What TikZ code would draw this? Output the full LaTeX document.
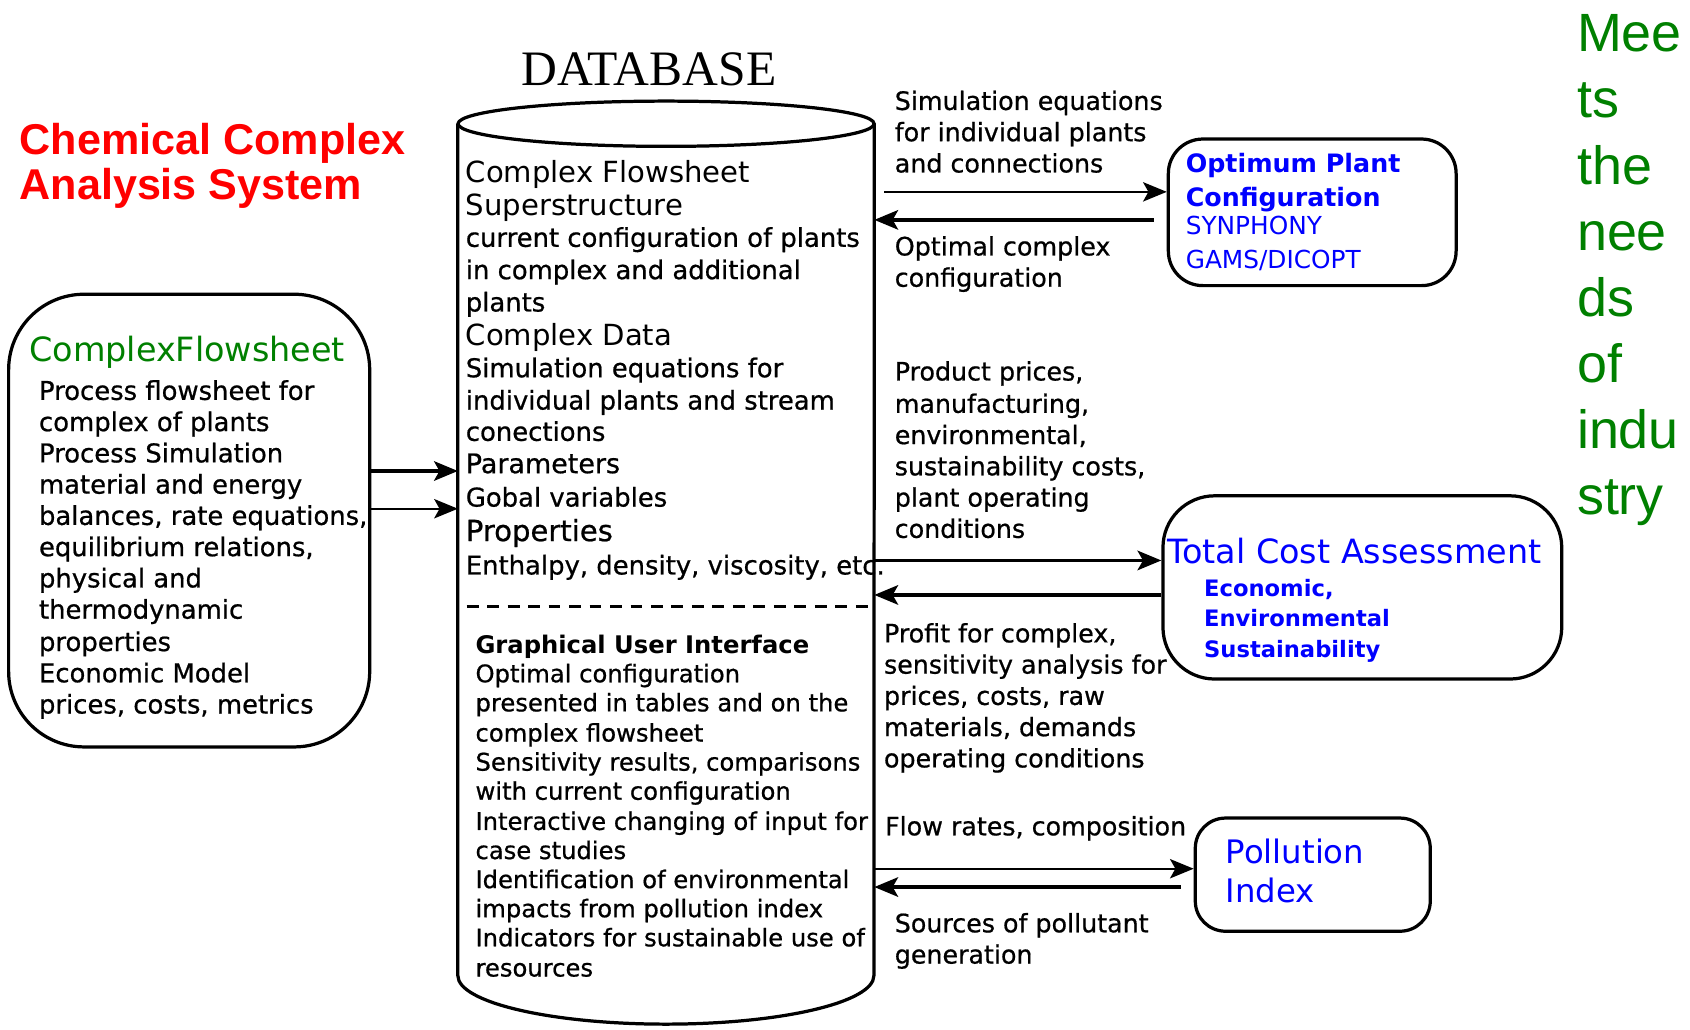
\documentclass[tikz,border=0pt]{standalone}
\usepackage{fontspec}
\setmainfont{DejaVu Sans}
\newfontfamily\heavy[FakeBold=0.7]{DejaVu Sans}
\newfontfamily\arialf{Liberation Sans}
\newfontfamily\timesf{Liberation Serif}
\usetikzlibrary{arrows.meta}
\definecolor{cgreen}{RGB}{0,128,0}
\definecolor{cblue}{RGB}{0,0,255}
\definecolor{cred}{RGB}{255,0,0}
\newcommand{\fsz}[1]{\fontsize{#1}{#1}\selectfont}
\begin{document}
\begin{tikzpicture}[x=1pt,y=-1pt,
  ln/.style={anchor=base west, inner sep=0pt},
  rl/.style={ln, font=\heavy\fsz{23.5}},
  box/.style={draw, line width=3pt, inner sep=0pt},
  tipx/.style={-{Stealth[length=22pt,width=18pt,inset=5pt]}},
  thk/.style={tipx, line width=3.5pt},
  thn/.style={tipx, line width=1.6pt}]
\useasboundingbox (0,0) rectangle (1568,955);
\fill[white] (0,0) rectangle (1568,955);

% title
\node[ln, text=cred, font=\arialf\bfseries\fsz{40}] (t1) at (18,143) {Chemical Complex};
\node[ln, text=cred, font=\arialf\bfseries\fsz{40}] (t2) at (18,185) {Analysis System};

% right green text
\foreach \yy/\w [count=\i] in {48/Mee, 109.4/ts, 170.8/the, 232.2/nee, 293.6/ds, 355/of, 416.4/indu, 477.8/stry}
  \node[ln, text=cgreen, font=\arialf\fsz{50}] (g\i) at (1463,\yy) {\w};

% database cylinder
\node[anchor=base, inner sep=0pt, font=\timesf\fsz{46}] (dbt) at (602,79) {DATABASE};
\node[minimum width=386pt, minimum height=790pt, inner sep=0pt] (db) at (618,510) {};
\draw[line width=3pt] (db.north west) -- (db.south west)
  arc[start angle=180, end angle=360, x radius=193pt, y radius=45pt] -- (db.north east);
\draw[line width=3pt, fill=white] (db.north) ellipse[x radius=193pt, y radius=21pt];
\draw[line width=2.5pt, dash pattern=on 11pt off 8pt] (433,563) -- (806,563);

\foreach \yy/\sz/\txt [count=\i] in {169/27/Complex Flowsheet, 200/27/Superstructure,
  321/27/Complex Data}
  \node[ln, font=\fsz{\sz}] (dh\i) at (432,\yy) {\txt};
\foreach \yy/\sz/\txt [count=\i] in {
  229/24/current configuration of plants, 259/24/in complex and additional, 289/24/plants,
  350/24/Simulation equations for, 380/24/individual plants and stream,
  409/24/conections, 439/25/Parameters, 470/24/Gobal variables, 502/27/Properties,
  533/24/{Enthalpy, density, viscosity, etc.}}
  \node[ln, font=\heavy\fsz{\sz}] (da\i) at (432,\yy) {\txt};

\node[ln, font=\bfseries\fsz{22.5}] (gui) at (441,606) {Graphical User Interface};
\foreach \yy/\txt [count=\i] in {633/Optimal configuration, 660/presented in tables and on the,
  688/complex flowsheet, 715/{Sensitivity results, comparisons}, 742/with current configuration,
  770/Interactive changing of input for, 797/case studies, 824/Identification of environmental,
  851/impacts from pollution index, 878/Indicators for sustainable use of, 906/resources}
  \node[ln, font=\heavy\fsz{22.5}] (dg\i) at (441,\yy) {\txt};

% left box
\node[box, minimum width=335pt, minimum height=420pt, rounded corners=70pt] (cfs) at (175.5,483) {};
\node[ln, text=cgreen, font=\fsz{31}] (cfst) at (27,335) {ComplexFlowsheet};
\foreach \yy/\txt [count=\i] in {371/Process flowsheet for, 400/complex of plants,
  429/Process Simulation, 458/material and energy, 487/{balances, rate equations,},
  516/{equilibrium relations,}, 545/physical and, 574/thermodynamic, 604/properties,
  633/Economic Model, 662/{prices, costs, metrics}}
  \node[ln, font=\heavy\fsz{24}] (cf\i) at (36,\yy) {\txt};

% optimum plant configuration box
\node[box, minimum width=267pt, minimum height=136pt, rounded corners=32pt] (opc) at (1217.5,197) {};
\node[ln, text=cblue, font=\bfseries\fsz{23.5}] (opc1) at (1100,160) {Optimum Plant};
\node[ln, text=cblue, font=\bfseries\fsz{23.5}] (opc2) at (1100,192) {Configuration};
\node[ln, text=cblue, font=\fsz{23}] (opc3) at (1100,218) {SYNPHONY};
\node[ln, text=cblue, font=\fsz{23}] (opc4) at (1100,249) {GAMS/DICOPT};

% total cost assessment box
\node[box, minimum width=370pt, minimum height=170pt, rounded corners=48pt] (tca) at (1264,545) {};
\node[ln, text=cblue, font=\fsz{31}] (tca1) at (1083,523) {Total Cost Assessment};
\node[ln, text=cblue, font=\bfseries\fsz{21}] (tca2) at (1117,553) {Economic,};
\node[ln, text=cblue, font=\bfseries\fsz{21}] (tca3) at (1117,581) {Environmental};
\node[ln, text=cblue, font=\bfseries\fsz{21}] (tca4) at (1117,610) {Sustainability};

% pollution index box
\node[box, minimum width=218pt, minimum height=105pt, rounded corners=28pt] (poll) at (1218,811.5) {};
\node[ln, text=cblue, font=\fsz{30}] (poll1) at (1137,801) {Pollution};
\node[ln, text=cblue, font=\fsz{30}] (poll2) at (1137,837) {Index};

% right-hand labels
\foreach \yy/\txt [count=\i] in {102/Simulation equations, 131/for individual plants, 160/and connections}
  \node[rl] (sl\i) at (830,\yy) {\txt};
\foreach \yy/\txt [count=\i] in {237/Optimal complex, 266/configuration}
  \node[rl] (ol\i) at (830,\yy) {\txt};
\foreach \yy/\txt [count=\i] in {353/{Product prices,}, 383/{manufacturing,}, 412/{environmental,},
  441/{sustainability costs,}, 470/plant operating, 499/conditions}
  \node[rl] (pl\i) at (830,\yy) {\txt};
\foreach \yy/\txt [count=\i] in {596/{Profit for complex,}, 625/sensitivity analysis for,
  654/{prices, costs, raw}, 683/{materials, demands}, 712/operating conditions}
  \node[rl] (pf\i) at (820,\yy) {\txt};
\node[rl] (fl1) at (821,775) {Flow rates, composition};
\node[rl] (so1) at (830,865) {Sources of pollutant};
\node[rl] (so2) at (830,894) {generation};

% connectors
\draw[thk] (cfs.east |- 0,437) -- (db.west |- 0,437);
\draw[thn] (cfs.east |- 0,472) -- (db.west |- 0,472);
\draw[thn, shorten <=9pt] (db.east |- 0,178) -- (opc.west |- 0,178);
\draw[thk, shorten <=12pt] (opc.west |- 0,204) -- (db.east |- 0,204);
\draw[thk] (db.east |- 0,520) -- (tca.west |- 0,520);
\draw[thk] (tca.west |- 0,552) -- (db.east |- 0,552);
\draw[thn] (db.east |- 0,806) -- (poll.west |- 0,806);
\draw[thk, shorten <=12pt] (poll.west |- 0,823) -- (db.east |- 0,823);
\end{tikzpicture}
\end{document}
